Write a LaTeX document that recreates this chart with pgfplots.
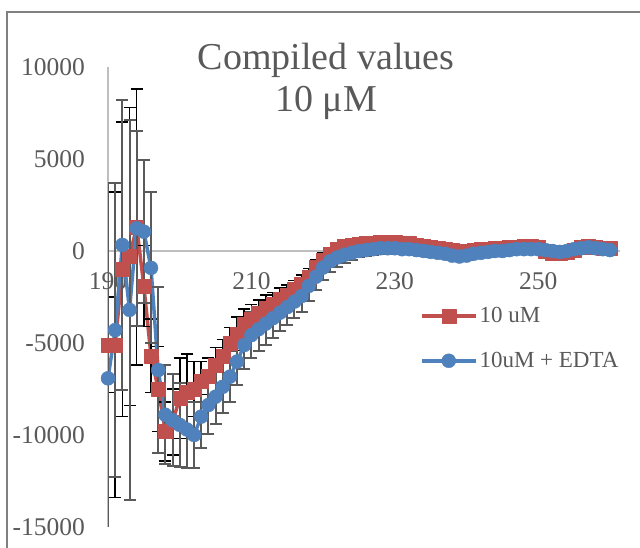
\documentclass[border=0pt]{standalone}
\usepackage{pgfplots}
\pgfplotsset{compat=1.18}
\usepackage{pgfplotstable}
\usepackage{fontspec}
\setmainfont{Liberation Serif}
\definecolor{exred}{HTML}{C0504D}
\definecolor{exblue}{HTML}{4F81BD}
\definecolor{txtgrey}{HTML}{595959}
\definecolor{axgrey}{HTML}{BFBFBF}
\definecolor{framegrey}{HTML}{808080}
\definecolor{errgrey}{HTML}{5A5A5A}

\pgfplotstableread{
x y e
190 -5100 2600
191 -5100 8300
192 -1000 8000
193 -300 8100
194 1300 7500
195 -1900 2200
196 -5700 2000
197 -7500 2300
198 -9800 1600
199 -9300 1800
200 -8000 2200
201 -7700 2100
202 -7500 1500
203 -7100 1100
204 -6800 1000
205 -6200 950
206 -5700 900
207 -5000 850
208 -4500 900
209 -4000 850
210 -3700 800
211 -3400 750
212 -3100 700
213 -2900 650
214 -2600 600
215 -2400 550
216 -2100 500
217 -1800 500
218 -1400 450
219 -900 400
220 -500 400
221 -150 350
222 100 300
223 250 300
224 300 300
225 350 250
226 400 250
227 450 250
228 500 250
229 500 250
230 500 250
231 450 250
232 400 250
233 300 250
234 250 250
235 200 250
236 150 200
237 100 200
238 50 200
239 0 200
240 0 200
241 50 200
242 100 200
243 100 200
244 150 200
245 150 200
246 200 200
247 200 200
248 250 200
249 250 200
250 200 200
251 0 200
252 -100 200
253 -100 200
254 -50 200
255 50 200
256 200 200
257 250 200
258 200 200
259 150 200
260 150 200
}\redtab

\pgfplotstableread{
x y e
190 -6920 10600
191 -4300 8000
192 330 7870
193 -3200 10330
194 1230 5300
195 1050 3900
196 -920 4100
197 -6470 4500
198 -8900 2700
199 -9200 2500
200 -9450 2300
201 -9700 2100
202 -10000 1800
203 -9000 1700
204 -8370 1600
205 -7920 1500
206 -7380 1400
207 -6830 1400
208 -6010 1300
209 -5110 1300
210 -4570 1250
211 -4250 1200
212 -3950 1150
213 -3650 1100
214 -3350 1000
215 -3050 950
216 -2750 900
217 -2450 850
218 -1900 800
219 -1400 700
220 -900 650
221 -550 600
222 -350 500
223 -200 450
224 -100 400
225 0 350
226 50 300
227 100 300
228 150 300
229 150 300
230 150 250
231 100 250
232 100 250
233 50 250
234 0 250
235 -50 250
236 -100 250
237 -150 250
238 -250 250
239 -300 250
240 -250 250
241 -150 250
242 -100 250
243 -50 250
244 0 250
245 0 250
246 50 250
247 100 250
248 100 250
249 100 250
250 100 250
251 50 250
252 0 250
253 -50 250
254 0 250
255 100 250
256 150 250
257 200 250
258 150 250
259 100 250
260 50 250
}\bluetab

\begin{document}
\begin{tikzpicture}[x=1pt,y=1pt]
\useasboundingbox (0,0) rectangle (640,548);
\draw[framegrey, line width=1.5pt] (7,-20) -- (7,536) -- (700,536);
\node[txtgrey, font=\fontsize{38}{38}\selectfont, anchor=base] at (326,478) {Compiled values};
\node[txtgrey, font=\fontsize{38}{38}\selectfont, anchor=base] at (326,436) {10 μM};
\begin{axis}[
  at={(108pt,21pt)}, anchor=south west,
  scale only axis, width=512pt, height=460pt,
  xmin=190, xmax=261.4, ymin=-15000, ymax=10000,
  scaled y ticks=false, scaled x ticks=false,
  axis x line*=middle, axis y line*=left,
  axis line style={draw=axgrey, line width=1.3pt},
  hide obscured x ticks=false, hide obscured y ticks=false,
  major tick length=0pt, tick style={draw=none},
  xtick={190,210,230,250}, xticklabels={190,210,230,250},
  ytick={-15000,-10000,-5000,0,5000,10000},
  yticklabels={-15000,-10000,-5000,0,5000,10000},
  tick label style={font=\fontsize{25.5}{25.5}\selectfont, text=txtgrey},
  xticklabel style={anchor=base, inner sep=0pt, yshift=-39pt},
  yticklabel style={anchor=east, inner sep=0pt, xshift=-23pt},
  legend style={draw=none, fill=none, at={(0.609,0.41)}, anchor=west,
    font=\fontsize{23}{23}\selectfont, text=txtgrey, row sep=24pt,
    inner sep=0pt, cells={anchor=west}},
  legend cell align=left,
  legend image code/.code={\draw[mark repeat=2,mark phase=2,#1] plot coordinates {(0pt,0pt) (27pt,0pt) (54pt,0pt)};},
]
\addplot[exred, line width=3.5pt, line join=round, mark=square*, mark size=7pt,
  mark options={solid, fill=exred, draw=exred, line width=0.4pt},
  error bars/.cd, y dir=both, y explicit, error mark=-,
  error bar style={draw=black, line width=1.6pt},
  error mark options={rotate=90, draw=black, mark size=6pt, line width=1.6pt}]
  table[x=x, y=y, y error=e] {\redtab};
\addlegendentry{10 uM}
\addplot[exblue, line width=3.5pt, line join=round, mark=*, mark size=7pt,
  mark options={solid, fill=exblue, draw=exblue, line width=0.4pt},
  error bars/.cd, y dir=both, y explicit, error mark=-,
  error bar style={draw=errgrey, line width=2pt},
  error mark options={rotate=90, draw=errgrey, mark size=6pt, line width=2pt}]
  table[x=x, y=y, y error=e] {\bluetab};
\addlegendentry{10uM + EDTA}
\end{axis}
\end{tikzpicture}
\end{document}
